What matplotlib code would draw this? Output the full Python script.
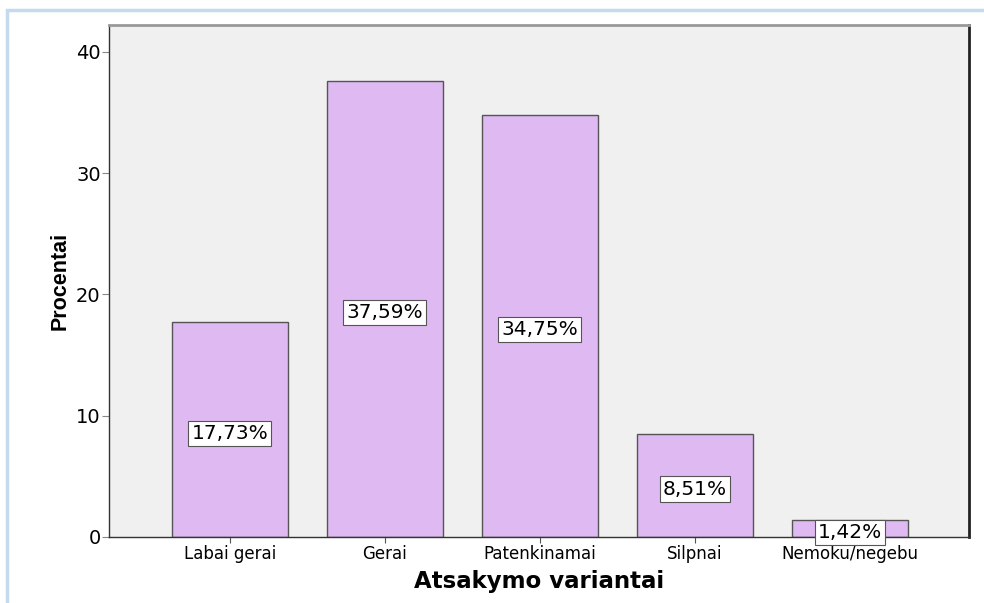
import matplotlib.pyplot as plt
from matplotlib.patches import Rectangle

# data
categories = ['Labai gerai', 'Gerai', 'Patenkinamai', 'Silpnai', 'Nemoku/negebu']
percents = [17.73, 37.59, 34.75, 8.51, 1.42]
bar_labels = ['17,73%', '37,59%', '34,75%', '8,51%', '1,42%']
yticks = [0, 10, 20, 30, 40]

plt.rcParams['font.family'] = ['DejaVu Sans']

W, H = 984, 603
fig = plt.figure(figsize=(W / 100, H / 100), dpi=100)

# light blue frame around the whole output
fig.patches.append(Rectangle((7 / W, -0.1), 1.2, (H - 10) / H + 0.1,
                             transform=fig.transFigure, fill=False,
                             edgecolor='#c5d9ef', linewidth=2.5))

# plot area in pixels: left 109, right 969, top 25, bottom 537
ax = fig.add_axes([109 / W, (H - 537) / H, (969 - 109) / W, (537 - 25) / H])
ax.set_facecolor('#f0f0f0')

x = list(range(len(categories)))
ax.bar(x, percents, width=0.75, color='#dfb9f1', edgecolor='#555555',
       linewidth=1.0, zorder=2)

for xi, v, lab in zip(x, percents, bar_labels):
    ax.text(xi, v / 2 - 0.3, lab, ha='center', va='center', fontsize=14.5,
            color='black', zorder=3,
            bbox=dict(boxstyle='square,pad=0.15', facecolor='white',
                      edgecolor='#555555', linewidth=0.8))

ax.set_xlim(-0.78, 4.77)
ax.set_ylim(0, 42.2)
ax.set_yticks(yticks)
ax.set_yticklabels([str(t) for t in yticks], fontsize=14)
ax.set_xticks(x)
ax.set_xticklabels(categories, fontsize=12)
ax.tick_params(axis='y', length=5, width=0.8, color='#888888', pad=1)
ax.tick_params(axis='x', length=4, width=0.8, color='#555555', pad=2)

for side in ['left', 'bottom']:
    ax.spines[side].set_color('#333333')
    ax.spines[side].set_linewidth(1.0)
ax.spines['top'].set_color('#999999')
ax.spines['top'].set_linewidth(2.0)
ax.spines['right'].set_color('#222222')
ax.spines['right'].set_linewidth(2.0)

ax.set_ylabel('Procentai', fontsize=15.5, fontweight='bold', labelpad=4,
              family=['Liberation Sans', 'DejaVu Sans'])
ax.set_xlabel('Atsakymo variantai', fontsize=16.5, fontweight='bold',
              labelpad=5)

fig.savefig('out.png', dpi=100)
